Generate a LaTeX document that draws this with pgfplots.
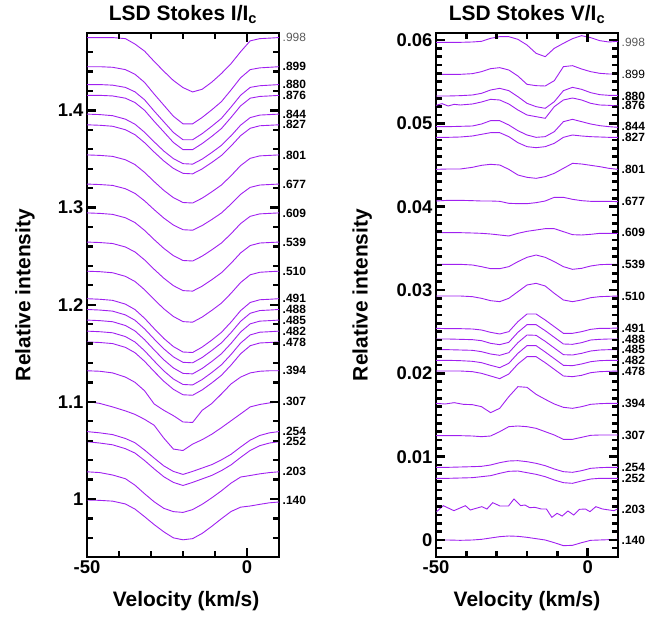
\documentclass[border=0pt]{standalone}
\usepackage{fontspec}
\setmainfont{Liberation Sans}
\usepackage{pgfplots}
\pgfplotsset{compat=1.18}
\definecolor{prof}{RGB}{160,32,240}
\definecolor{lab998}{RGB}{90,90,90}
\pgfplotscreateplotcyclelist{lsdlist}{prof,line width=0.9bp,mark=none\\}
\tikzset{
  ph/.style={anchor=west, inner sep=0pt, xshift=3.5bp, font=\fontsize{12}{12}\selectfont\bfseries},
  phr/.style={anchor=west, inner sep=0pt, xshift=3.5bp, font=\fontsize{12}{12}\selectfont},
  tk/.style={draw=black, line width=2.4bp},
}
\pgfplotsset{
  lsd/.style={
    scale only axis,
    xmin=-50, xmax=10,
    xtick={-50,0}, minor xtick={-40,-30,-20,-10},
    tick align=inside,
    major tick length=0.32cm, minor tick length=0.21cm,
    tick style={black, line width=2.4bp},
    axis line style={line width=2.6bp},
    /pgf/number format/assume math mode=true,
    tick label style={font=\fontsize{18.5}{18.5}\selectfont\bfseries},
    label style={font=\fontsize{21}{21}\selectfont\bfseries},
    title style={font=\fontsize{21}{21}\selectfont\bfseries},
    cycle list name=lsdlist,
    clip=false,
    xlabel={Velocity (km/s)},
    ylabel={Relative intensity},
  },
}
\begin{document}
\begin{tikzpicture}
\useasboundingbox (0,0) rectangle (646bp,617bp);
% ---------------- Stokes I ----------------
\begin{axis}[lsd, at={(87bp,60bp)}, anchor=south west,
  width=192bp, height=524bp,
  ymin=0.9403, ymax=1.4797,
  ytick={1,1.1,1.2,1.3,1.4}, minor y tick num=4,
  title={LSD Stokes I/I\textsubscript{c}},
  xlabel style={at={(axis description cs:0.516,-0.084)}, anchor=center},
  ylabel style={at={(axis description cs:-0.323,0.5)}, anchor=center},
]
\addplot coordinates {(-50,1.475)(-46,1.475)(-42,1.475)(-38,1.4739)(-35,1.4683)(-32,1.461)(-29,1.4504)(-26,1.4403)(-23,1.4308)(-20,1.4235)(-17,1.419)(-14,1.4218)(-11,1.4291)(-8,1.438)(-5,1.4481)(-2,1.4604)(1,1.4716)(4,1.4739)(7,1.4744)(10,1.475)};
\addplot coordinates {(-50,1.445)(-46,1.445)(-42,1.4444)(-38,1.442)(-35,1.4372)(-32,1.4288)(-29,1.4168)(-26,1.4054)(-23,1.394)(-20,1.3862)(-17,1.3862)(-14,1.3928)(-11,1.4006)(-8,1.409)(-5,1.421)(-2,1.4336)(1,1.442)(4,1.4438)(7,1.4444)(10,1.445)};
\addplot coordinates {(-50,1.4266)(-46,1.4266)(-42,1.426)(-38,1.4237)(-35,1.4191)(-32,1.4109)(-29,1.3993)(-26,1.3883)(-23,1.3773)(-20,1.3698)(-17,1.3698)(-14,1.3761)(-11,1.3837)(-8,1.3918)(-5,1.4034)(-2,1.4156)(1,1.4237)(4,1.4254)(7,1.426)(10,1.4266)};
\addplot coordinates {(-50,1.4155)(-46,1.4155)(-42,1.4149)(-38,1.4126)(-35,1.4081)(-32,1.4001)(-29,1.3887)(-26,1.3779)(-23,1.367)(-20,1.3596)(-17,1.3596)(-14,1.3659)(-11,1.3733)(-8,1.3813)(-5,1.3927)(-2,1.4047)(1,1.4126)(4,1.4144)(7,1.4149)(10,1.4155)};
\addplot coordinates {(-50,1.3962)(-46,1.3957)(-42,1.3946)(-38,1.391)(-35,1.3858)(-32,1.3775)(-29,1.3676)(-26,1.3582)(-23,1.3504)(-20,1.3452)(-17,1.3447)(-14,1.3499)(-11,1.3567)(-8,1.364)(-5,1.3738)(-2,1.3848)(1,1.3926)(4,1.3952)(7,1.3957)(10,1.3962)};
\addplot coordinates {(-50,1.3852)(-46,1.3847)(-42,1.3837)(-38,1.3801)(-35,1.375)(-32,1.3668)(-29,1.3571)(-26,1.348)(-23,1.3403)(-20,1.3352)(-17,1.3347)(-14,1.3398)(-11,1.3464)(-8,1.3536)(-5,1.3633)(-2,1.374)(1,1.3816)(4,1.3842)(7,1.3847)(10,1.3852)};
\addplot coordinates {(-50,1.3542)(-46,1.3537)(-42,1.3527)(-38,1.3492)(-35,1.3442)(-32,1.3362)(-29,1.3267)(-26,1.3177)(-23,1.3102)(-20,1.3052)(-17,1.3047)(-14,1.3097)(-11,1.3162)(-8,1.3232)(-5,1.3327)(-2,1.3432)(1,1.3507)(4,1.3532)(7,1.3537)(10,1.3542)};
\addplot coordinates {(-50,1.3242)(-46,1.3237)(-42,1.3228)(-38,1.3194)(-35,1.3146)(-32,1.3069)(-29,1.2978)(-26,1.2892)(-23,1.282)(-20,1.2772)(-17,1.2767)(-14,1.2815)(-11,1.2877)(-8,1.2944)(-5,1.3036)(-2,1.3136)(1,1.3208)(4,1.3232)(7,1.3237)(10,1.3242)};
\addplot coordinates {(-50,1.2945)(-46,1.294)(-42,1.293)(-38,1.2895)(-35,1.2845)(-32,1.2765)(-29,1.267)(-26,1.258)(-23,1.2505)(-20,1.2455)(-17,1.245)(-14,1.25)(-11,1.2565)(-8,1.2635)(-5,1.273)(-2,1.2835)(1,1.291)(4,1.2935)(7,1.294)(10,1.2945)};
\addplot coordinates {(-50,1.2645)(-46,1.264)(-42,1.263)(-38,1.2594)(-35,1.2543)(-32,1.2461)(-29,1.2364)(-26,1.2273)(-23,1.2196)(-20,1.2145)(-17,1.214)(-14,1.2191)(-11,1.2257)(-8,1.2329)(-5,1.2426)(-2,1.2533)(1,1.2609)(4,1.2635)(7,1.264)(10,1.2645)};
\addplot coordinates {(-50,1.2345)(-46,1.234)(-42,1.2329)(-38,1.2292)(-35,1.2239)(-32,1.2154)(-29,1.2053)(-26,1.1958)(-23,1.1879)(-20,1.1826)(-17,1.182)(-14,1.1873)(-11,1.1942)(-8,1.2016)(-5,1.2117)(-2,1.2228)(1,1.2308)(4,1.2334)(7,1.234)(10,1.2345)};
\addplot coordinates {(-50,1.2062)(-46,1.2056)(-42,1.2045)(-38,1.2006)(-35,1.195)(-32,1.186)(-29,1.1754)(-26,1.1653)(-23,1.1569)(-20,1.1513)(-17,1.1508)(-14,1.1564)(-11,1.1636)(-8,1.1715)(-5,1.1821)(-2,1.1939)(1,1.2023)(4,1.2051)(7,1.2056)(10,1.2062)};
\addplot coordinates {(-50,1.1951)(-46,1.1945)(-42,1.1934)(-38,1.1895)(-35,1.184)(-32,1.1751)(-29,1.1646)(-26,1.1546)(-23,1.1463)(-20,1.1407)(-17,1.1402)(-14,1.1457)(-11,1.1529)(-8,1.1607)(-5,1.1712)(-2,1.1829)(1,1.1912)(4,1.194)(7,1.1945)(10,1.1951)};
\addplot coordinates {(-50,1.1842)(-46,1.1836)(-42,1.1825)(-38,1.1786)(-35,1.173)(-32,1.164)(-29,1.1534)(-26,1.1433)(-23,1.1349)(-20,1.1293)(-17,1.1288)(-14,1.1344)(-11,1.1416)(-8,1.1495)(-5,1.1601)(-2,1.1719)(1,1.1803)(4,1.1831)(7,1.1836)(10,1.1842)};
\addplot coordinates {(-50,1.1728)(-46,1.1722)(-42,1.1711)(-38,1.1672)(-35,1.1616)(-32,1.1526)(-29,1.142)(-26,1.1319)(-23,1.1235)(-20,1.1179)(-17,1.1174)(-14,1.123)(-11,1.1302)(-8,1.1381)(-5,1.1487)(-2,1.1605)(1,1.1689)(4,1.1717)(7,1.1722)(10,1.1728)};
\addplot coordinates {(-50,1.1617)(-46,1.1611)(-42,1.16)(-38,1.1561)(-35,1.1506)(-32,1.1417)(-29,1.1312)(-26,1.1212)(-23,1.1129)(-20,1.1073)(-17,1.1068)(-14,1.1123)(-11,1.1195)(-8,1.1273)(-5,1.1378)(-2,1.1495)(1,1.1578)(4,1.1606)(7,1.1611)(10,1.1617)};
\addplot coordinates {(-50,1.132)(-46,1.1315)(-42,1.1298)(-38,1.1255)(-35,1.1201)(-32,1.1114)(-29,1.0978)(-26,1.0913)(-23,1.0858)(-20,1.0793)(-17,1.0788)(-14,1.0913)(-11,1.0983)(-8,1.1081)(-5,1.1184)(-2,1.1255)(1,1.1298)(4,1.1315)(7,1.132)(10,1.132)};
\addplot coordinates {(-50,1.1004)(-46,1.0984)(-42,1.0948)(-38,1.0907)(-35,1.0871)(-32,1.082)(-29,1.0759)(-26,1.0627)(-23,1.0514)(-20,1.0499)(-17,1.0565)(-14,1.0611)(-11,1.0667)(-8,1.0734)(-5,1.0805)(-2,1.0876)(1,1.0948)(4,1.0973)(7,1.0989)(10,1.0999)};
\addplot coordinates {(-50,1.0694)(-46,1.0681)(-42,1.0663)(-38,1.0623)(-35,1.0579)(-32,1.0504)(-29,1.0421)(-26,1.0341)(-23,1.0284)(-20,1.0253)(-17,1.0284)(-14,1.0319)(-11,1.0354)(-8,1.0403)(-5,1.046)(-2,1.0535)(1,1.0606)(4,1.0654)(7,1.0681)(10,1.0694)};
\addplot coordinates {(-50,1.059)(-46,1.0576)(-42,1.0558)(-38,1.0518)(-35,1.0473)(-32,1.0396)(-29,1.031)(-26,1.0229)(-23,1.0171)(-20,1.0139)(-17,1.0171)(-14,1.0207)(-11,1.0243)(-8,1.0292)(-5,1.0351)(-2,1.0428)(1,1.05)(4,1.0549)(7,1.0576)(10,1.059)};
\addplot coordinates {(-50,1.028)(-46,1.0272)(-42,1.0247)(-38,1.0209)(-35,1.0142)(-32,1.0054)(-29,0.9971)(-26,0.9904)(-23,0.987)(-20,0.9862)(-17,0.9891)(-14,0.9946)(-11,1.0012)(-8,1.0084)(-5,1.0163)(-2,1.0226)(1,1.0242)(4,1.0259)(7,1.0272)(10,1.028)};
\addplot coordinates {(-50,0.999)(-46,0.9986)(-42,0.9978)(-38,0.9949)(-35,0.9896)(-32,0.9818)(-29,0.9736)(-26,0.9662)(-23,0.96)(-20,0.958)(-17,0.9592)(-14,0.9646)(-11,0.9719)(-8,0.9797)(-5,0.9871)(-2,0.9916)(1,0.9928)(4,0.9945)(7,0.9961)(10,0.9969)};
\pgfplotsextra{
  \foreach \yy in {0.96,0.98,1.02,1.04,1.06,1.08,1.12,1.14,1.16,1.18,1.22,1.24,1.26,1.28,1.32,1.34,1.36,1.38,1.42,1.44,1.46} {
    \draw[tk] (axis cs:-50,\yy) -- (axis cs:-48.125,\yy);
    \draw[tk] (axis cs:10,\yy) -- (axis cs:8.125,\yy);
  }
  \foreach \yy in {1,1.1,1.2,1.3,1.4} {
    \draw[tk] (axis cs:-50,\yy) -- (axis cs:-47.19,\yy);
    \draw[tk] (axis cs:10,\yy) -- (axis cs:7.19,\yy);
  }
  \foreach \xx in {-40,-30,-20,-10} {
    \draw[tk] (axis cs:\xx,0.9403) -- (axis cs:\xx,0.9465);
    \draw[tk] (axis cs:\xx,1.4797) -- (axis cs:\xx,1.4735);
  }
  \draw[tk] (axis cs:0,0.9403) -- (axis cs:0,0.9496);
  \draw[tk] (axis cs:0,1.4797) -- (axis cs:0,1.4704);
}
\node[phr, text=lab998] at (axis cs:10,1.475) {.998};
\node[ph] at (axis cs:10,1.445) {.899};
\node[ph] at (axis cs:10,1.4266) {.880};
\node[ph] at (axis cs:10,1.4155) {.876};
\node[ph] at (axis cs:10,1.3962) {.844};
\node[ph] at (axis cs:10,1.3852) {.827};
\node[ph] at (axis cs:10,1.3542) {.801};
\node[ph] at (axis cs:10,1.3242) {.677};
\node[ph] at (axis cs:10,1.2945) {.609};
\node[ph] at (axis cs:10,1.2645) {.539};
\node[ph] at (axis cs:10,1.2345) {.510};
\node[ph] at (axis cs:10,1.2062) {.491};
\node[ph] at (axis cs:10,1.1951) {.488};
\node[ph] at (axis cs:10,1.1842) {.485};
\node[ph] at (axis cs:10,1.1728) {.482};
\node[ph] at (axis cs:10,1.1617) {.478};
\node[ph] at (axis cs:10,1.132) {.394};
\node[ph] at (axis cs:10,1.1004) {.307};
\node[ph] at (axis cs:10,1.0694) {.254};
\node[ph] at (axis cs:10,1.059) {.252};
\node[ph] at (axis cs:10,1.028) {.203};
\node[ph] at (axis cs:10,0.999) {.140};
\end{axis}
% ---------------- Stokes V ----------------
\begin{axis}[lsd, at={(436bp,60bp)}, anchor=south west,
  width=182bp, height=524bp,
  ymin=-0.00204, ymax=0.06084,
  ytick={0,0.01,0.02,0.03,0.04,0.05,0.06}, minor y tick num=9,
  scaled y ticks=false,
  yticklabel style={/pgf/number format/fixed, /pgf/number format/precision=2},
  title={LSD Stokes V/I\textsubscript{c}},
  xlabel style={at={(axis description cs:0.5,-0.084)}, anchor=center},
  ylabel style={at={(axis description cs:-0.405,0.5)}, anchor=center},
]
\addplot coordinates {(-50,0.05972)(-46,0.05972)(-42,0.05972)(-38,0.05976)(-35,0.05984)(-32,0.0602)(-29,0.0604)(-26,0.0604)(-23,0.06008)(-20,0.0594)(-17,0.0584)(-14,0.058)(-11,0.059)(-8,0.0596)(-5,0.06016)(-2,0.06052)(1,0.06028)(4,0.05992)(7,0.05976)(10,0.05984)};
\addplot coordinates {(-50,0.05588)(-46,0.05588)(-42,0.05588)(-38,0.05596)(-35,0.0562)(-32,0.05656)(-29,0.05668)(-26,0.0564)(-23,0.05568)(-20,0.05468)(-17,0.05452)(-14,0.05448)(-11,0.05512)(-8,0.0568)(-5,0.05692)(-2,0.05652)(1,0.0562)(4,0.056)(7,0.05592)(10,0.05592)};
\addplot coordinates {(-50,0.05328)(-46,0.05328)(-42,0.05332)(-38,0.0534)(-35,0.0536)(-32,0.054)(-29,0.0542)(-26,0.05392)(-23,0.0532)(-20,0.0524)(-17,0.052)(-14,0.0518)(-11,0.0526)(-8,0.05392)(-5,0.05432)(-2,0.05408)(1,0.05368)(4,0.05344)(7,0.05336)(10,0.05336)};
\addplot coordinates {(-50,0.05216)(-48,0.05236)(-46,0.05208)(-44,0.05228)(-42,0.0522)(-38,0.05232)(-35,0.05256)(-32,0.05288)(-29,0.0528)(-26,0.05232)(-23,0.0516)(-20,0.051)(-17,0.0508)(-14,0.0506)(-11,0.052)(-8,0.0528)(-5,0.05304)(-2,0.0528)(1,0.0524)(4,0.0522)(7,0.05216)(10,0.05208)};
\addplot coordinates {(-50,0.0496)(-46,0.0496)(-42,0.04964)(-38,0.04968)(-35,0.04992)(-32,0.05032)(-29,0.05032)(-26,0.0498)(-23,0.04912)(-20,0.0486)(-17,0.04832)(-14,0.0484)(-11,0.049)(-8,0.0502)(-5,0.05048)(-2,0.0502)(1,0.04992)(4,0.04972)(7,0.0496)(10,0.04952)};
\addplot coordinates {(-50,0.04832)(-46,0.04832)(-42,0.04836)(-38,0.04848)(-35,0.04868)(-32,0.04888)(-29,0.04888)(-26,0.0484)(-23,0.04768)(-20,0.0472)(-17,0.04708)(-14,0.0472)(-11,0.0476)(-8,0.04832)(-5,0.0486)(-2,0.04848)(1,0.0484)(4,0.04836)(7,0.04832)(10,0.04832)};
\addplot coordinates {(-50,0.04448)(-46,0.04452)(-42,0.04452)(-38,0.04472)(-35,0.04496)(-32,0.04508)(-29,0.045)(-26,0.04448)(-23,0.0438)(-20,0.04352)(-17,0.0434)(-14,0.0436)(-11,0.044)(-8,0.0446)(-5,0.0452)(-2,0.04512)(1,0.04496)(4,0.0448)(7,0.0446)(10,0.04448)};
\addplot coordinates {(-50,0.04068)(-46,0.04076)(-42,0.04076)(-38,0.04072)(-35,0.04068)(-32,0.04068)(-29,0.04064)(-26,0.0404)(-23,0.04036)(-20,0.04036)(-17,0.04048)(-14,0.04068)(-11,0.04112)(-8,0.04112)(-5,0.04088)(-2,0.04072)(1,0.04064)(4,0.04064)(7,0.04064)(10,0.0406)};
\addplot coordinates {(-50,0.03688)(-46,0.03688)(-42,0.03688)(-38,0.03684)(-35,0.0368)(-32,0.03672)(-29,0.0366)(-26,0.03648)(-23,0.0368)(-20,0.03704)(-17,0.0372)(-14,0.03736)(-11,0.03736)(-8,0.037)(-5,0.03664)(-2,0.0366)(1,0.03668)(4,0.0368)(7,0.0368)(10,0.0368)};
\addplot coordinates {(-50,0.03308)(-46,0.03308)(-42,0.03308)(-38,0.033)(-35,0.0328)(-32,0.03256)(-29,0.03256)(-26,0.0328)(-23,0.0334)(-20,0.03392)(-17,0.0342)(-14,0.03392)(-11,0.0334)(-8,0.0328)(-5,0.03248)(-2,0.0326)(1,0.03288)(4,0.03304)(7,0.03308)(10,0.03308)};
\addplot coordinates {(-50,0.02928)(-46,0.02928)(-42,0.02928)(-38,0.0292)(-35,0.029)(-32,0.02872)(-29,0.0286)(-26,0.029)(-23,0.0298)(-20,0.0306)(-17,0.0308)(-14,0.03048)(-11,0.0296)(-8,0.0288)(-5,0.0286)(-2,0.0288)(1,0.02908)(4,0.0292)(7,0.02924)(10,0.02928)};
\addplot coordinates {(-50,0.0254)(-46,0.02536)(-42,0.02536)(-38,0.02532)(-35,0.0252)(-32,0.02492)(-29,0.02472)(-26,0.025)(-23,0.0262)(-20,0.02712)(-17,0.02712)(-14,0.0264)(-11,0.0256)(-8,0.0248)(-5,0.0248)(-2,0.025)(1,0.02528)(4,0.0254)(7,0.0254)(10,0.02544)};
\addplot coordinates {(-50,0.02412)(-46,0.02412)(-42,0.02408)(-38,0.02404)(-35,0.02392)(-32,0.0236)(-29,0.02344)(-26,0.02372)(-23,0.02492)(-20,0.02584)(-17,0.02584)(-14,0.02512)(-11,0.02432)(-8,0.02352)(-5,0.02348)(-2,0.02368)(1,0.024)(4,0.02408)(7,0.02412)(10,0.02412)};
\addplot coordinates {(-50,0.02284)(-46,0.02284)(-42,0.0228)(-38,0.02276)(-35,0.0226)(-32,0.02232)(-29,0.02216)(-26,0.02248)(-23,0.02368)(-20,0.0246)(-17,0.02456)(-14,0.02384)(-11,0.02304)(-8,0.02224)(-5,0.0222)(-2,0.0224)(1,0.02268)(4,0.0228)(7,0.02284)(10,0.02284)};
\addplot coordinates {(-50,0.02156)(-46,0.02156)(-42,0.02152)(-38,0.02144)(-35,0.02128)(-32,0.02096)(-29,0.02068)(-26,0.0212)(-23,0.0224)(-20,0.02332)(-17,0.02332)(-14,0.02256)(-11,0.02176)(-8,0.02096)(-5,0.02092)(-2,0.02112)(1,0.0214)(4,0.02152)(7,0.02156)(10,0.02156)};
\addplot coordinates {(-50,0.02028)(-46,0.02028)(-42,0.02028)(-38,0.0202)(-35,0.02)(-32,0.01968)(-29,0.01936)(-26,0.01992)(-23,0.02112)(-20,0.022)(-17,0.022)(-14,0.02128)(-11,0.02048)(-8,0.01968)(-5,0.0196)(-2,0.01976)(1,0.02008)(4,0.0202)(7,0.02024)(10,0.02028)};
\addplot coordinates {(-50,0.0164)(-47,0.01632)(-44,0.01648)(-41,0.01628)(-38,0.01624)(-35,0.016)(-32,0.01528)(-29,0.0158)(-26,0.0172)(-23,0.0184)(-20,0.01832)(-17,0.01748)(-14,0.01688)(-11,0.01632)(-8,0.01592)(-5,0.0158)(-2,0.016)(1,0.01628)(4,0.01636)(7,0.0164)(10,0.0164)};
\addplot coordinates {(-50,0.01252)(-46,0.01252)(-42,0.01252)(-38,0.01248)(-35,0.0124)(-32,0.01248)(-29,0.013)(-26,0.0136)(-23,0.01368)(-20,0.0136)(-17,0.0134)(-14,0.013)(-11,0.0126)(-8,0.01208)(-5,0.01208)(-2,0.01232)(1,0.01256)(4,0.0126)(7,0.0126)(10,0.0126)};
\addplot coordinates {(-50,0.00872)(-46,0.00872)(-42,0.00876)(-38,0.0088)(-35,0.00884)(-32,0.009)(-29,0.00928)(-26,0.00948)(-23,0.00952)(-20,0.0094)(-17,0.0092)(-14,0.00892)(-11,0.00852)(-8,0.0082)(-5,0.00812)(-2,0.00832)(1,0.0086)(4,0.00868)(7,0.00872)(10,0.00872)};
\addplot coordinates {(-50,0.0074)(-46,0.0074)(-42,0.00744)(-38,0.00748)(-35,0.0076)(-32,0.00772)(-29,0.008)(-26,0.00824)(-23,0.00828)(-20,0.00808)(-17,0.00788)(-14,0.0076)(-11,0.0072)(-8,0.00688)(-5,0.0068)(-2,0.00708)(1,0.00732)(4,0.0074)(7,0.0074)(10,0.0074)};
\addplot coordinates {(-49.8,0.0034)(-47.6,0.00412)(-44.1,0.00352)(-40.3,0.00412)(-38.7,0.0036)(-34.9,0.004)(-33.2,0.00372)(-31.3,0.00448)(-28.9,0.00408)(-26.1,0.00408)(-24.3,0.00492)(-22.1,0.00412)(-20.7,0.0042)(-19.1,0.00388)(-17.4,0.00392)(-15.3,0.00372)(-13.6,0.00372)(-11.8,0.00272)(-10.1,0.0032)(-8.4,0.00288)(-6.5,0.00348)(-4.6,0.003)(-2.7,0.00368)(-0.75,0.00372)(0.75,0.0034)(2.7,0.004)(4.9,0.00372)(7.1,0.0036)(8.7,0.00352)(9.8,0.00372)};
\addplot coordinates {(-50,0)(-46,0)(-42,-0.00004)(-38,0)(-35,0.00008)(-32,0.00024)(-29,0.0004)(-26,0.00048)(-23,0.00044)(-20,0.00032)(-17,0.00016)(-14,0)(-11,-0.00032)(-8,-0.00068)(-5,-0.00064)(-2,-0.00032)(1,-0.00004)(4,0)(7,0.00004)(10,0.00008)};
\pgfplotsextra{
  \foreach \kk in {-1,...,60} {
    \pgfmathsetmacro{\yy}{\kk/1000}
    \draw[tk] (axis cs:-50,\yy) -- (axis cs:-48.02,\yy);
    \draw[tk] (axis cs:10,\yy) -- (axis cs:8.02,\yy);
  }
  \foreach \yy in {0,0.01,0.02,0.03,0.04,0.05,0.06} {
    \draw[tk] (axis cs:-50,\yy) -- (axis cs:-47.03,\yy);
    \draw[tk] (axis cs:10,\yy) -- (axis cs:7.03,\yy);
  }
  \foreach \xx in {-40,-30,-20,-10} {
    \draw[tk] (axis cs:\xx,-0.00204) -- (axis cs:\xx,-0.00132);
    \draw[tk] (axis cs:\xx,0.06084) -- (axis cs:\xx,0.06012);
  }
  \draw[tk] (axis cs:0,-0.00204) -- (axis cs:0,-0.00096);
  \draw[tk] (axis cs:0,0.06084) -- (axis cs:0,0.05976);
}
\node[phr, text=lab998] at (axis cs:10,0.05972) {.998};
\node[phr] at (axis cs:10,0.05588) {.899};
\node[ph] at (axis cs:10,0.05328) {.880};
\node[ph] at (axis cs:10,0.05216) {.876};
\node[ph] at (axis cs:10,0.0496) {.844};
\node[ph] at (axis cs:10,0.04832) {.827};
\node[ph] at (axis cs:10,0.04448) {.801};
\node[ph] at (axis cs:10,0.04068) {.677};
\node[ph] at (axis cs:10,0.03688) {.609};
\node[ph] at (axis cs:10,0.03308) {.539};
\node[ph] at (axis cs:10,0.02928) {.510};
\node[ph] at (axis cs:10,0.0254) {.491};
\node[ph] at (axis cs:10,0.02412) {.488};
\node[ph] at (axis cs:10,0.02284) {.485};
\node[ph] at (axis cs:10,0.02156) {.482};
\node[ph] at (axis cs:10,0.02028) {.478};
\node[ph] at (axis cs:10,0.0164) {.394};
\node[ph] at (axis cs:10,0.01252) {.307};
\node[ph] at (axis cs:10,0.00872) {.254};
\node[ph] at (axis cs:10,0.0074) {.252};
\node[ph] at (axis cs:10,0.0037) {.203};
\node[ph] at (axis cs:10,0) {.140};
\end{axis}
\end{tikzpicture}
\end{document}
